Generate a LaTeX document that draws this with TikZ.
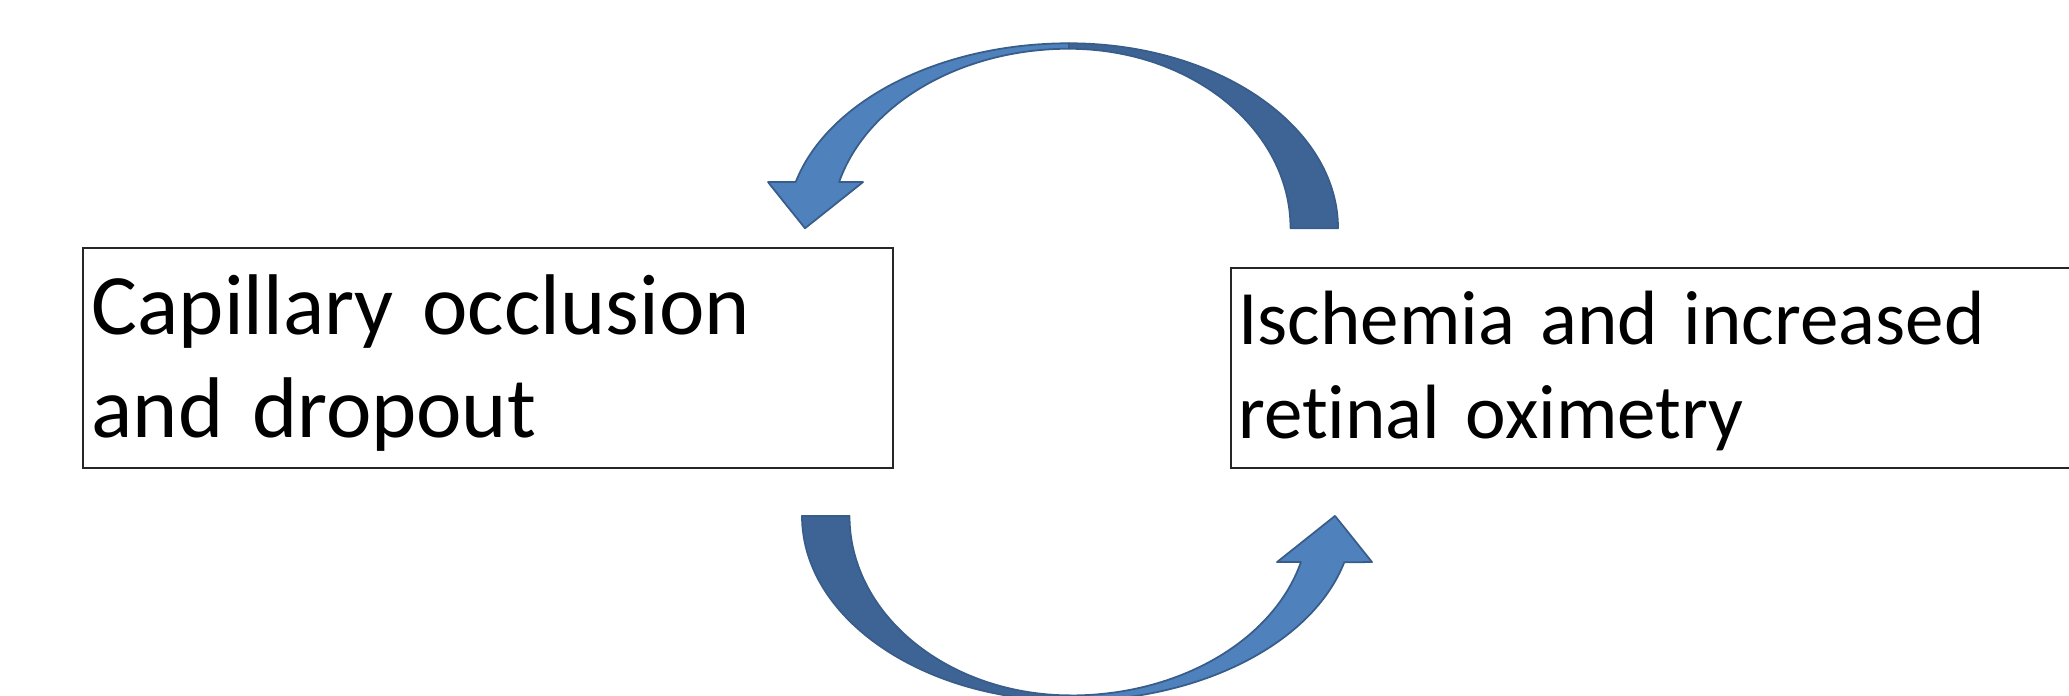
\documentclass[tikz,border=0pt]{standalone}
\usepackage{fontspec}
\setmainfont{Carlito}[Ligatures={NoCommon,NoContextual}, RawFeature={-liga;-clig}]
\usepackage{xcolor}
\definecolor{arrowlight}{HTML}{4F81BD}
\definecolor{arrowdark}{HTML}{3E6496}
\definecolor{arrowedge}{HTML}{385D8A}

\begin{document}
\begin{tikzpicture}[
    x=0.1mm, y=0.1mm,
    textbox/.style={draw=black!85, line width=0.6pt, inner sep=0, anchor=north west},
    boxtext/.style={anchor=base west, inner sep=0, align=left},
    bandback/.style={fill=arrowdark, draw=arrowedge, line width=0.5pt, line join=round},
    bandfront/.style={fill=arrowlight, draw=arrowedge, line width=0.5pt, line join=round}
]
    \useasboundingbox (0,0) rectangle (2069,696);

    % Boxes
    \node[textbox, minimum width=81mm, minimum height=22mm] (capbox) at (82,449) {};
    \node[textbox, minimum width=85mm, minimum height=20mm] (ischbox) at (1230,429) {};

    % Box texts
    \node[boxtext, text width=75mm, font=\fontsize{24.5}{29.3}\selectfont] (captext) at (91,361) {Capillary occlusion\\and dropout};
    \node[boxtext, text width=80mm, font=\fontsize{21.9}{26.7}\selectfont] (ischtext) at (1237.5,351) {Ischemia and increased\\retinal oximetry};

    % Curved arrows (bottom one is the top one turned round)
    \foreach \turn in {0,180} {
        \begin{scope}[rotate around={\turn:(1070,323.9)}]
            \draw[bandback] (1338,467.7) arc[start angle=0, end angle=90, x radius=269, y radius=185]
                -- (1069,647.2) arc[start angle=90, end angle=0, x radius=221.5, y radius=179.5] -- cycle;
            \draw[bandfront] (1069,652.7) arc[start angle=90, end angle=165.5, x radius=282.3, y radius=185]
                -- (768,513.9) -- (805,467.7) -- (863,513.9) -- (839.1,513.9)
                arc[start angle=165.1, end angle=90, x radius=237.9, y radius=179.5] -- cycle;
        \end{scope}
    }
\end{tikzpicture}
\end{document}
